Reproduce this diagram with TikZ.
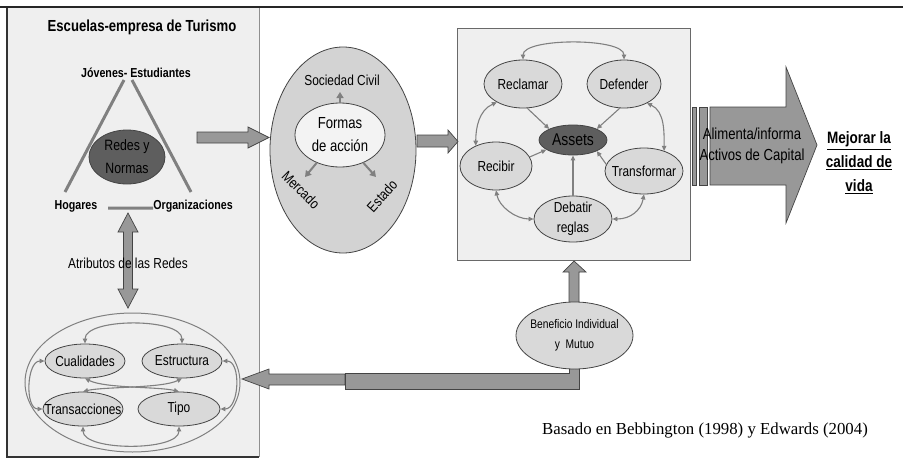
\documentclass[tikz,border=0pt]{standalone}
\usepackage{fontspec}
\setmainfont{Liberation Sans}[FakeStretch=0.82]
\newfontfamily\citefont{Liberation Serif}
\usepackage{tikz}
\usetikzlibrary{shapes.geometric}
\usetikzlibrary{arrows.meta}
\usetikzlibrary{positioning}

\definecolor{panelgray}{HTML}{EFEFEF}
\definecolor{ovalgray}{HTML}{D9D9D9}
\definecolor{midgray}{HTML}{D3D3D3}
\definecolor{palegray}{HTML}{F3F3F3}
\definecolor{darkoval}{HTML}{5E5E5E}
\definecolor{linegray}{HTML}{808080}
\definecolor{blockgray}{HTML}{989898}
\definecolor{edgegray}{HTML}{444444}

\tikzset{
  panel/.style={fill=panelgray, draw=edgegray!80, line width=0.8pt},
  oval/.style={ellipse, draw=edgegray, fill=ovalgray, line width=0.8pt, inner sep=0pt},
  tag/.style={font=\fontsize{14.5}{20}\selectfont, inner sep=1pt},
  boldtag/.style={font=\fontsize{13}{15}\selectfont\bfseries, inner sep=1pt},
  link/.style={draw=linegray, line width=1.1pt, {Triangle[length=5pt,width=4.5pt]}-{Triangle[length=5pt,width=4.5pt]}},
  feed/.style={draw=linegray, line width=1.1pt, -{Triangle[length=5pt,width=4.5pt]}},
  sprout/.style={draw=linegray, line width=2pt, -{Triangle[length=6pt,width=7pt]}},
  blockarrow/.style={fill=blockgray, draw=edgegray, line width=0.7pt},
}

\begin{document}
\begin{tikzpicture}[x=1pt, y=-1pt]
 \useasboundingbox (0,0) rectangle (903,466);

 % frames
 \fill[panelgray] (7,7) rectangle (259,457);
 \draw[edgegray!60, line width=0.8pt] (259,7) -- (259,457);
 \draw[line width=1.6pt, black!80] (7,7) -- (7,457) -- (259,457);
 \draw[line width=2pt, black!85] (0,7) -- (903,7);
 \draw[panel] (457,28) rectangle (690,260);

 % left panel
 \node[boldtag, font=\fontsize{16}{18}\selectfont\bfseries] (title) at (142,27) {Escuelas-empresa de Turismo};
 \node[boldtag] (jovenes) at (136,73) {Jóvenes- Estudiantes};
 \node[boldtag] (hogares) at (76,206) {Hogares};
 \node[boldtag] (orgs) at (193,206) {Organizaciones};
 \coordinate (apexL) at (124,80);
 \coordinate (apexR) at (132,80);
 \coordinate (footL) at (65,192);
 \coordinate (footR) at (191,192);
 \coordinate (baseL) at (108,208);
 \coordinate (baseR) at (153,208);
 \draw[linegray, line width=3pt] (apexL) -- (footL) (apexR) -- (footR) (baseL) -- (baseR);
 \node[oval, fill=darkoval, minimum width=76pt, minimum height=54pt,
   label={[tag, align=center, font=\fontsize{15}{23}\selectfont]center:Redes y\\Normas}] (redes) at (127,157) {};

 \draw[blockarrow] (128,213) -- (138,232) -- (132.5,232) -- (132.5,289) -- (138,289) -- (128,308)
   -- (118,289) -- (123.5,289) -- (123.5,232) -- (118,232) -- cycle;
 \node[tag] (atributos) at (128,263) {Atributos de las Redes};

 % network attributes
 \node[ellipse, draw=linegray, line width=1pt, minimum width=215pt, minimum height=139pt] (redesbox) at (132.5,382.5) {};
 \node[oval, minimum width=80pt, minimum height=34pt, label={[tag]center:Cualidades}] (cual) at (85,361) {};
 \node[oval, minimum width=80pt, minimum height=34pt, label={[tag]center:Estructura}] (estr) at (182,361) {};
 \node[oval, minimum width=80pt, minimum height=34pt, label={[tag]center:Transacciones}] (trans) at (83,409) {};
 \node[oval, minimum width=82pt, minimum height=34pt, label={[tag]center:Tipo}] (tipo) at (179,409) {};
 \draw[link] (cual.north) .. controls +(0,-26) and +(0,-26) .. (estr.north);
 \draw[link] (trans.south) .. controls +(0,25) and +(0,25) .. (tipo.south);
 \draw[link] (cual.west) .. controls +(-18,0) and +(-18,0) .. (trans.west);
 \draw[link] (estr.east) .. controls +(19,0) and +(19,0) .. (tipo.east);
 \draw[link] (cual.south) .. controls +(20,10) and +(-20,-5) .. (tipo.north);
 \draw[link] (estr.south) .. controls +(-20,10) and +(20,-5) .. (trans.north);

 % forms of action
 \draw[blockarrow] (197,132) -- (248,132) -- (248,127) -- (269,137.5) -- (248,148) -- (248,143) -- (197,143) -- cycle;
 \node[oval, fill=midgray, minimum width=146pt, minimum height=206pt] (accion) at (343,150) {};
 \node[oval, fill=palegray, minimum width=90pt, minimum height=64pt,
   label={[tag, align=center, font=\fontsize{16}{23}\selectfont]center:Formas\\de acción}] (formas) at (340,135) {};
 \node[tag] (sociedad) at (342,80) {Sociedad Civil};
 \node[tag, rotate=-45] (mercado) at (301,190) {Mercado};
 \node[tag, rotate=48] (estado) at (382,196) {Estado};
 \coordinate (socTip) at (340,92);
 \coordinate (merTip) at (305,177);
 \coordinate (estTip) at (376,177);
 \draw[sprout] (formas.north) -- (socTip);
 \draw[sprout] (formas.-130) -- (merTip);
 \draw[sprout] (formas.-50) -- (estTip);
 \draw[blockarrow] (417,135) -- (448,135) -- (448,130) -- (458,141.5) -- (448,153) -- (448,147) -- (417,147) -- cycle;

 % assets
 \node[oval, minimum width=78pt, minimum height=48pt, label={[tag]center:Reclamar}] (reclamar) at (523,84) {};
 \node[oval, minimum width=74pt, minimum height=48pt, label={[tag]center:Defender}] (defender) at (624,84) {};
 \node[oval, fill=darkoval, minimum width=68pt, minimum height=30pt,
   label={[tag, font=\fontsize{17}{20}\selectfont]center:Assets}] (assets) at (573,140) {};
 \node[oval, minimum width=72pt, minimum height=48pt, label={[tag]center:Recibir}] (recibir) at (496,166) {};
 \node[oval, minimum width=78pt, minimum height=46pt, label={[tag]center:Transformar}] (transformar) at (644,171) {};
 \node[oval, minimum width=78pt, minimum height=46pt, label={[tag, align=center]center:Debatir\\reglas}] (debatir) at (573,219) {};
 \draw[feed] (reclamar.-80) -- (assets.155);
 \draw[feed] (defender.-100) -- (assets.25);
 \draw[feed] (recibir.15) -- (assets.-160);
 \draw[feed] (transformar.170) -- (assets.-25);
 \draw[feed] (debatir.north) -- (assets.south);
 \draw[link] (reclamar.north) .. controls +(0,-22) and +(0,-22) .. (defender.north);
 \draw[link] (reclamar.-145) .. controls +(-18,8) and +(0,-18) .. (recibir.135);
 \draw[link] (defender.-40) .. controls +(18,8) and +(0,-18) .. (transformar.45);
 \draw[link] (recibir.-90) .. controls +(3,16) and +(-18,0) .. (debatir.180);
 \draw[link] (transformar.-90) .. controls +(-3,16) and +(18,0) .. (debatir.0);

 % capital assets
 \draw[blockarrow] (692,107) rectangle (696,185);
 \draw[blockarrow] (699,107) rectangle (707,185);
 \draw[blockarrow] (710,107) -- (786,107) -- (786,67) -- (817,145) -- (786,223) -- (786,185) -- (710,185) -- cycle;
 \node[align=center, font=\fontsize{16}{21}\selectfont] (alimenta) at (752,146) {Alimenta/informa\\Activos de Capital};
 \node[align=center, font=\fontsize{16.5}{24}\selectfont\bfseries] (mejorar) at (859,163)
   {\underline{Mejorar la}\\\underline{calidad de}\\\underline{vida}};

 % benefit
 \draw[blockarrow] (574,261) -- (586,272) -- (579,272) -- (579,305) -- (569,305) -- (569,272) -- (563,272) -- cycle;
 \draw[blockarrow] (242,379) -- (269,369) -- (269,374) -- (345,374) -- (345,385) -- (269,385) -- (269,389) -- cycle;
 \draw[blockarrow] (345,373) -- (569,373) -- (569,365) -- (579,365) -- (579,389) -- (345,389) -- cycle;
 \node[oval, minimum width=117pt, minimum height=67pt,
   label={[tag, align=center, font=\fontsize{12.5}{20}\selectfont]center:Beneficio Individual\\y\ \ Mutuo}] (beneficio) at (574.5,335.5) {};

 \node[font=\citefont\fontsize{16.8}{19}\selectfont, anchor=west, inner sep=0pt] (fuente) at (542,430)
   {Basado en Bebbington (1998) y Edwards (2004)};
\end{tikzpicture}
\end{document}
